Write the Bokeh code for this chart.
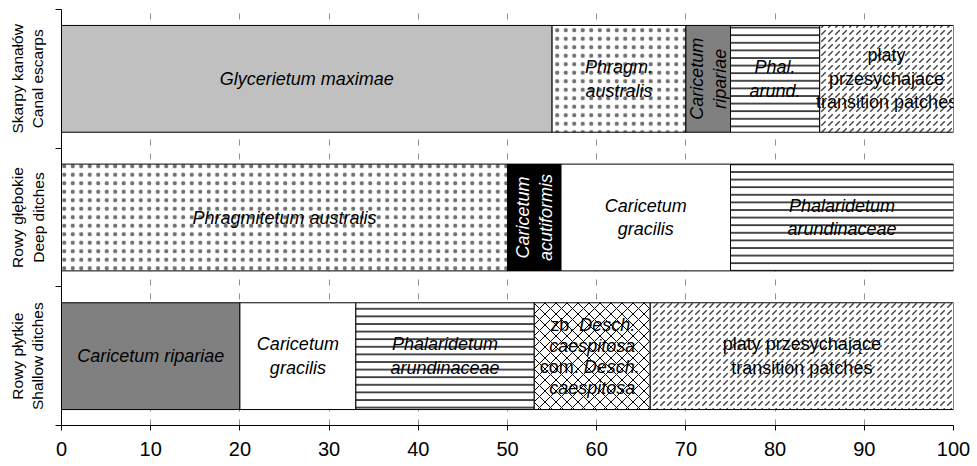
import math
from bokeh.plotting import figure
from bokeh.models import Range1d, FixedTicker
from bokeh.core.properties import value
from bokeh.embed import file_html
from bokeh.resources import INLINE

# ---------------- data ----------------
categories = ["Rowy płytkie\nShallow ditches", "Rowy głębokie\nDeep ditches", "Skarpy kanałów\nCanal escarps"]

shallow_communities = ["Caricetum ripariae", "Caricetum gracilis", "Phalaridetum arundinaceae",
                       "Deschampsia caespitosa", "transition patches"]
shallow_values = [20, 13, 20, 13, 34]
shallow_labels = ["Caricetum ripariae", "Caricetum\ngracilis", "Phalaridetum\narundinaceae",
                  "zb. Desch.\ncaespitosa\ncom. Desch.\ncaespitosa", "płaty przesychające\ntransition patches"]

deep_communities = ["Phragmitetum australis", "Caricetum acutiformis", "Caricetum gracilis",
                    "Phalaridetum arundinaceae"]
deep_values = [50, 6, 19, 25]
deep_labels = ["Phragmitetum australis", "Caricetum\nacutiformis", "Caricetum\ngracilis",
               "Phalaridetum\narundinaceae"]

canal_communities = ["Glycerietum maximae", "Phragmitetum australis", "Caricetum ripariae",
                     "Phalaridetum arundinaceae", "transition patches"]
canal_values = [55, 15, 5, 10, 15]
canal_labels = ["Glycerietum maximae", "Phragm.\naustralis", "Caricetum\nripariae", "Phal.\narund.",
                "płaty\nprzesychajace\ntransition patches"]

x_ticks = [0, 10, 20, 30, 40, 50, 60, 70, 80, 90, 100]

# ---------------- styles ----------------
styles = {
    "Glycerietum maximae": dict(fill="#c0c0c0", hatch=None, text="black", italic=True),
    "Phragmitetum australis": dict(fill="white", hatch=("dot", "#707070", 8.5, 1), text="black", italic=True),
    "Caricetum ripariae": dict(fill="#808080", hatch=None, text="black", italic=True),
    "Phalaridetum arundinaceae": dict(fill="white", hatch=("horizontal_line", "black", 7.6, 1.4), text="black", italic=True),
    "transition patches": dict(fill="white", hatch=("right_diagonal_dash", "#404040", 7, 1.4), text="black", italic=False),
    "Caricetum acutiformis": dict(fill="black", hatch=None, text="white", italic=True),
    "Caricetum gracilis": dict(fill="white", hatch=None, text="black", italic=True),
    "Deschampsia caespitosa": dict(fill="white", hatch=("diagonal_cross", "black", 11, 1), text="black", italic=True),
}

FONT = "Liberation Sans"
FS = 18
LINE_H = 21

p = figure(frame_width=892, frame_height=416, output_backend="svg", toolbar_location=None,
           x_range=Range1d(0, 100), y_range=Range1d(0, 3),
           min_border_left=61, min_border_right=19, min_border_top=9, min_border_bottom=38)
p.outline_line_color = None
p.background_fill_color = "white"
p.border_fill_color = "white"

# grid
p.ygrid.visible = False
p.xgrid.ticker = FixedTicker(ticks=x_ticks[1:])
p.xgrid.grid_line_color = "#909090"
p.xgrid.grid_line_dash = "6 8"
p.xgrid.grid_line_width = 1

# x axis
p.xaxis.ticker = FixedTicker(ticks=x_ticks)
p.xaxis.major_tick_in = 0
p.xaxis.major_tick_out = 5
p.xaxis.minor_tick_line_color = None
p.xaxis.axis_line_color = "black"
p.xaxis.major_tick_line_color = "black"
p.xaxis.major_label_text_font = FONT
p.xaxis.major_label_text_font_size = "20px"
p.xaxis.major_label_text_color = "black"
p.xaxis.major_label_standoff = 11

# y axis
p.yaxis.ticker = FixedTicker(ticks=[0.5, 1.5, 2.5], minor_ticks=[0, 1, 2, 3])
p.yaxis.major_label_overrides = {0.5: categories[0], 1.5: categories[1], 2.5: categories[2]}
p.yaxis.major_tick_in = 0
p.yaxis.major_tick_out = 0
p.yaxis.minor_tick_in = 0
p.yaxis.minor_tick_out = 6
p.yaxis.minor_tick_line_color = "black"
p.yaxis.axis_line_color = "black"
p.yaxis.major_label_orientation = "parallel"
p.yaxis.major_label_text_font = FONT
p.yaxis.major_label_text_font_size = "15.5px"
p.yaxis.major_label_text_color = "black"
p.yaxis.major_label_standoff = 9

BAR_H = 0.77

rows = [(shallow_communities, shallow_values, shallow_labels),
        (deep_communities, deep_values, deep_labels),
        (canal_communities, canal_values, canal_labels)]


def draw_text(x, y, txt, color, style, angle=0.0, xo=0, yo=0, align="center"):
    p.text(x=[x], y=[y], text=[txt], text_font=value(FONT), text_font_size=f"{FS}px",
           text_font_style=style, text_color=color, text_align=align, text_baseline="middle",
           angle=angle, x_offset=xo, y_offset=yo, text_line_height=1.17)


for ci, (comms, vals, labels) in enumerate(rows):
    yc = ci + 0.5
    left = 0
    for comm, v, lab in zip(comms, vals, labels):
        st = styles[comm]
        right = left + v
        kw = dict(fill_color=st["fill"], line_color="black", line_width=1)
        if st["hatch"]:
            pat, hc, hs, hw = st["hatch"]
            kw.update(hatch_pattern=pat, hatch_color=hc, hatch_scale=hs, hatch_weight=hw)
        p.hbar(y=[yc], left=[left], right=[right], height=BAR_H, **kw)
        xc = (left + right) / 2
        style = "italic" if st["italic"] else "normal"
        lines = lab.split("\n")
        mixed = any(l.startswith(("zb. ", "com. ")) for l in lines)
        if mixed:
            n = len(lines)
            for i, line in enumerate(lines):
                yo = (i - (n - 1) / 2) * LINE_H
                if line.startswith(("zb. ", "com. ")):
                    pre, rest = line.split(" ", 1)
                    tot = (len(pre) + 1 + len(rest)) * 9
                    start = -tot / 2
                    pre_end = start + len(pre) * 9
                    draw_text(xc, yc, pre, st["text"], "normal", xo=pre_end, yo=yo, align="right")
                    draw_text(xc, yc, rest, st["text"], "italic", xo=pre_end + 5, yo=yo, align="left")
                else:
                    draw_text(xc, yc, line, st["text"], "italic", yo=yo)
        else:
            angle = math.pi / 2 if v <= 6 else 0.0
            draw_text(xc, yc, lab, st["text"], style, angle=angle)
        left = right

open("out.html", "w").write(file_html(p, INLINE))
